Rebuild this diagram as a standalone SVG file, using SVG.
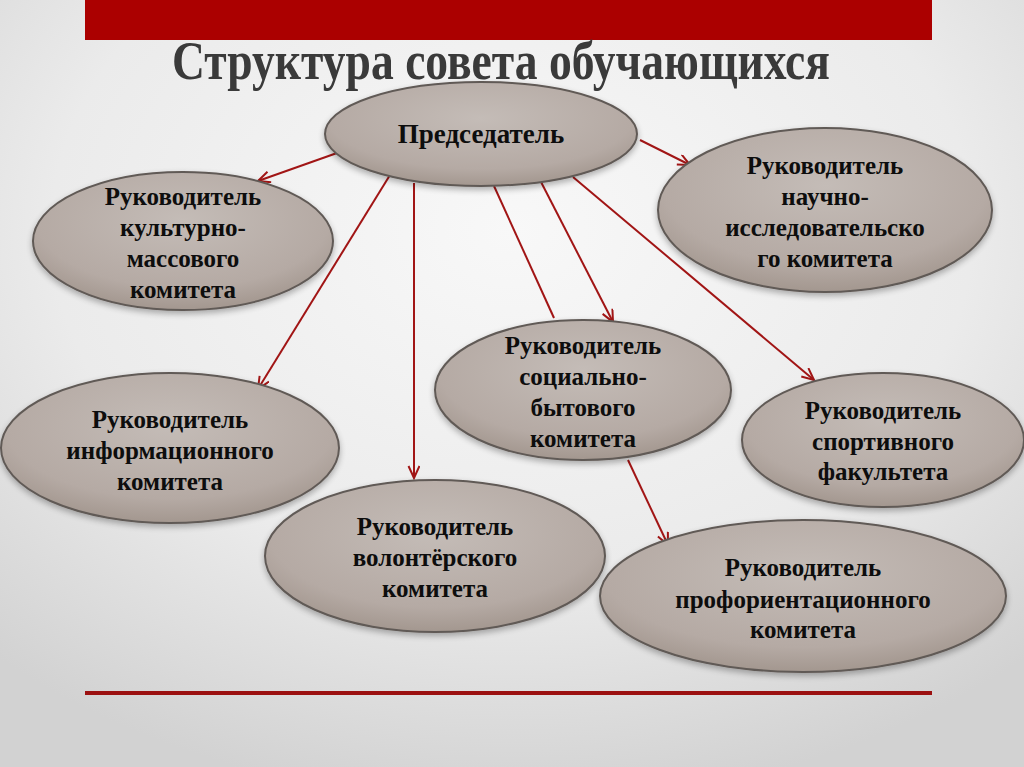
<svg xmlns="http://www.w3.org/2000/svg" width="1024" height="767" viewBox="0 0 1024 767">
<style>
.node ellipse{fill:url(#nodeFill);stroke:#615a56;stroke-width:2;filter:url(#shadow)}
.node text{font-family:"Liberation Serif","Times New Roman",serif;font-weight:bold;font-size:25px;fill:#0d0d0d;text-anchor:middle}
.conn line{stroke:#a11515;stroke-width:2;fill:none}
.conn .arr{marker-end:url(#arrow)}
</style>
<defs>
<radialGradient id="bg" cx="50%" cy="30%" r="75%">
<stop offset="0" stop-color="#f8f8f8"/>
<stop offset="0.6" stop-color="#ebebeb"/>
<stop offset="1" stop-color="#d2d2d2"/>
</radialGradient>
<radialGradient id="nodeFill" cx="50%" cy="35%" r="65%">
<stop offset="0" stop-color="#c4bcb7"/>
<stop offset="0.75" stop-color="#b5aaa4"/>
<stop offset="1" stop-color="#a3978f"/>
</radialGradient>
<filter id="shadow" x="-10%" y="-10%" width="120%" height="130%">
<feGaussianBlur in="SourceAlpha" stdDeviation="3"/>
<feOffset dx="0" dy="3" result="b"/>
<feComponentTransfer><feFuncA type="linear" slope="0.3"/></feComponentTransfer>
<feMerge><feMergeNode/><feMergeNode in="SourceGraphic"/></feMerge>
</filter>
<marker id="arrow" markerUnits="userSpaceOnUse" markerWidth="16" markerHeight="16" refX="13" refY="6" orient="auto">
<path d="M1,0.5 L13,6 L1,11.5" fill="none" stroke="#a11515" stroke-width="2"/>
</marker>
</defs>
<rect x="0" y="0" width="1024" height="767" fill="url(#bg)"/>
<rect x="85" y="0" width="847" height="40" fill="#ab0000"/>
<line x1="85" y1="693" x2="932" y2="693" stroke="#9b1010" stroke-width="4"/>
<text x="501" y="79" font-family="&quot;Liberation Serif&quot;,&quot;Times New Roman&quot;,serif" font-weight="bold" font-size="54" fill="#3a3a3a" text-anchor="middle" textLength="658" lengthAdjust="spacingAndGlyphs">Структура совета обучающихся</text>
<g id="connectors" class="conn">
<line class="arr" x1="337" y1="153" x2="258" y2="181"/>
<line class="arr" x1="640" y1="140" x2="690" y2="165"/>
<line class="arr" x1="390" y1="175" x2="258" y2="389"/>
<line class="arr" x1="414" y1="183" x2="414" y2="478"/>
<line x1="494" y1="186" x2="554" y2="318"/>
<line class="arr" x1="540" y1="180" x2="613" y2="322"/>
<line class="arr" x1="573" y1="177" x2="814" y2="380"/>
<line class="arr" x1="628" y1="460" x2="668" y2="545"/>
</g>
<g id="chairman" class="node">
<ellipse cx="481" cy="134" rx="156" ry="52"/>
<text x="481" y="143" style="font-size:27px">Председатель</text>
</g>
<g id="culture" class="node">
<ellipse cx="183" cy="241" rx="150" ry="69"/>
<text x="183" y="205">Руководитель</text>
<text x="183" y="236">культурно-</text>
<text x="183" y="267">массового</text>
<text x="183" y="298">комитета</text>
</g>
<g id="research" class="node">
<ellipse cx="825" cy="210" rx="167" ry="82"/>
<text x="825" y="174">Руководитель</text>
<text x="825" y="205">научно-</text>
<text x="825" y="236">исследовательско</text>
<text x="825" y="267">го комитета</text>
</g>
<g id="info" class="node">
<ellipse cx="170" cy="448" rx="169" ry="75"/>
<text x="170" y="428">Руководитель</text>
<text x="170" y="459">информационного</text>
<text x="170" y="490">комитета</text>
</g>
<g id="social" class="node">
<ellipse cx="583" cy="390" rx="148" ry="70"/>
<text x="583" y="354">Руководитель</text>
<text x="583" y="385">социально-</text>
<text x="583" y="416">бытового</text>
<text x="583" y="447">комитета</text>
</g>
<g id="sport" class="node">
<ellipse cx="883" cy="440" rx="141" ry="67"/>
<text x="883" y="419">Руководитель</text>
<text x="883" y="450">спортивного</text>
<text x="883" y="480">факультета</text>
</g>
<g id="volunteer" class="node">
<ellipse cx="435" cy="556" rx="170" ry="76"/>
<text x="435" y="535">Руководитель</text>
<text x="435" y="566">волонтёрского</text>
<text x="435" y="597">комитета</text>
</g>
<g id="career" class="node">
<ellipse cx="803" cy="596" rx="203" ry="76"/>
<text x="803" y="576">Руководитель</text>
<text x="803" y="608">профориентационного</text>
<text x="803" y="638">комитета</text>
</g>
</svg>
